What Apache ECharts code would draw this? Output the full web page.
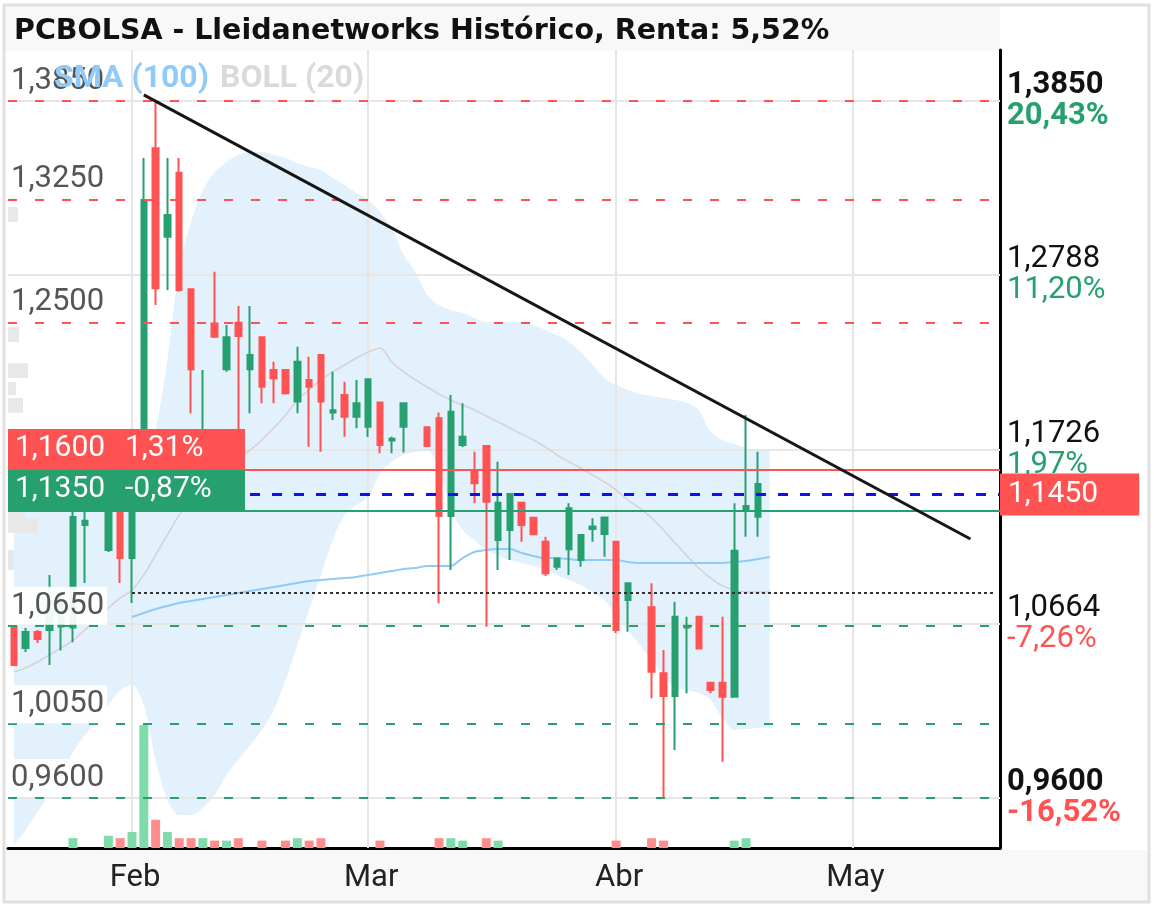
<!DOCTYPE html>
<html><head><meta charset="utf-8">
<style>html,body{margin:0;padding:0;background:#fff}#c{width:1154px;height:908px}</style>
<script src="https://cdn.jsdelivr.net/npm/echarts@6/dist/echarts.min.js"></script>
</head><body><div id="c"></div>
<script>
// ---------- data ----------
const titleText = 'PCBOLSA - Lleidanetworks Histórico, Renta: 5,52%';
const startDate = '2025-01-20';
const holidays = ['2025-04-18', '2025-04-21', '2025-05-01'];
const categoryCount = 84;
const monthNames = ['Ene','Feb','Mar','Abr','May','Jun','Jul','Ago','Sep','Oct','Nov','Dic'];

// [open, close, low, high]
const candles = [
 [1.0642,1.0411,1.0411,1.0642],[1.0514,1.0612,1.0490,1.0636],[1.0612,1.0569,1.0545,1.0625],
 [1.0624,1.0800,1.0411,1.0960],[1.0645,1.0780,1.0500,1.0850],[1.0640,1.1313,1.0550,1.1400],
 [1.1265,1.1290,1.0911,1.1450],[1.1380,1.1500,1.1360,1.1560],[1.1112,1.1420,1.1100,1.1500],
 [1.1420,1.1063,1.0911,1.1480],[1.1063,1.1500,1.0789,1.1550],[1.1500,1.3246,1.1450,1.3502],
 [1.3562,1.2708,1.2606,1.3856],[1.3023,1.3155,1.2698,1.3502],[1.3413,1.2698,1.2687,1.3502],
 [1.2702,1.2214,1.1946,1.2702],[1.1450,1.1550,1.1400,1.2210],[1.2494,1.2413,1.2405,1.2809],
 [1.2214,1.2409,1.2199,1.2484],[1.2498,1.2417,1.1500,1.2600],[1.2214,1.2301,1.1946,1.2600],
 [1.2409,1.2108,1.2007,1.2409],[1.2210,1.2159,1.2007,1.2260],[1.2210,1.2068,1.2060,1.2210],
 [1.2017,1.2260,1.1946,1.2352],[1.2149,1.2108,1.1742,1.2291],[1.2301,1.2017,1.1711,1.2301],
 [1.1950,1.1965,1.1905,1.2199],[1.2057,1.1925,1.1803,1.2138],[1.1925,1.2007,1.1854,1.2149],
 [1.1864,1.2153,1.1801,1.2153],[1.2011,1.1752,1.1702,1.2011],[1.1780,1.1790,1.1702,1.1803],
 [1.1864,1.2007,1.1706,1.2007],null,[1.1860,1.1746,1.1740,1.1865],
 [1.1915,1.1319,1.0787,1.1950],[1.1319,1.1955,1.0990,1.2057],[1.1752,1.1803,1.1740,1.2007],
 [1.1596,1.1519,1.1397,1.1711],[1.1746,1.1407,1.0644,1.1746],[1.1173,1.1401,1.0990,1.1650],
 [1.1234,1.1454,1.1051,1.1454],[1.1401,1.1264,1.1163,1.1401],[1.1309,1.1208,1.1208,1.1309],
 [1.1163,1.0970,1.0954,1.1193],[1.1010,1.1061,1.0990,1.1061],[1.1116,1.1366,1.0960,1.1397],
 [1.1051,1.1203,1.1010,1.1203],[1.1240,1.1255,1.1163,1.1305],[1.1210,1.1311,1.1071,1.1311],
 [1.1163,1.0624,1.0606,1.1163],[1.0807,1.0909,1.0614,1.0909],null,
 [1.0763,1.0370,1.0208,1.0909],[1.0360,1.0222,0.9600,1.0502],[1.0222,1.0705,0.9892,1.0797],
 [1.0640,1.0650,1.0238,1.0705],[1.0705,1.0512,1.0512,1.0705],[1.0303,1.0258,1.0238,1.0303],
 [1.0303,1.0217,0.9821,1.0705],[1.0217,1.1108,1.0217,1.1397],[1.1350,1.1380,1.1193,1.1935],
 [1.1315,1.1515,1.1193,1.1711]
];
const volumes = [0,0,0,0,0,8,0,0,10,8, 13,100,23,13,8,8,8,6,6,8, 0,6,0,6,8,6,8,0,0,0,
 0,6,0,0,0,0,8,8,6,0, 8,6,0,0,0,0,0,0,0,0, 0,6,0,0,8,6,0,0,0,0, 0,6,8,0];

const bollUpper = [1.1539,1.1551,1.1563,1.1576,1.1588,1.1600,1.1612,1.1624,1.1624,1.1612,
 1.1600,1.1630,1.1844,1.2271,1.2832,1.3112,1.3307,1.3417,1.3478,1.3521,
 1.3539,1.3539,1.3521,1.3502,1.3472,1.3448,1.3429,1.3380,1.3338,1.3289,
 1.3246,1.3173,1.3076,1.2911,1.2807,1.2667,1.2606,1.2576,1.2557,1.2527,
 1.2502,1.2502,1.2502,1.2502,1.2484,1.2454,1.2423,1.2380,1.2319,1.2240,
 1.2161,1.2118,1.2088,1.2063,1.2051,1.2039,1.2027,1.2009,1.1966,1.1832,
 1.1783,1.1759,1.1734,1.1722,1.1722];
const bollMid = [1.0368,1.0393,1.0429,1.0472,1.0515,1.0563,1.0624,1.0685,1.0759,1.0819,
 1.0868,1.0960,1.1082,1.1204,1.1326,1.1417,1.1478,1.1551,1.1612,1.1673,
 1.1722,1.1783,1.1856,1.1935,1.2027,1.2088,1.2149,1.2198,1.2240,1.2283,
 1.2319,1.2344,1.2259,1.2198,1.2149,1.2106,1.2063,1.2027,1.1996,1.1966,
 1.1929,1.1893,1.1856,1.1819,1.1783,1.1740,1.1691,1.1649,1.1612,1.1569,
 1.1527,1.1478,1.1417,1.1368,1.1307,1.1234,1.1155,1.1076,1.1002,1.0941,
 1.0893,1.0868,1.0856,1.0856,1.0856];
const bollLower = [0.9313,0.9405,0.9515,0.9618,0.9740,0.9880,0.9984,1.0063,1.0167,1.0259,
 1.0289,1.0167,0.9832,0.9588,0.9496,0.9496,0.9539,0.9618,0.9740,0.9832,
 0.9923,1.0015,1.0137,1.0319,1.0533,1.0746,1.0960,1.1173,1.1326,1.1387,
 1.1435,1.1582,1.1649,1.1691,1.1710,1.1722,1.1600,1.1356,1.1234,1.1173,
 1.1112,1.1076,1.1051,1.1033,1.1015,1.0990,1.0960,1.0929,1.0899,1.0856,
 1.0807,1.0716,1.0624,1.0533,1.0441,1.0350,1.0271,1.0259,1.0240,1.0198,
 1.0088,1.0015,1.0021,1.0027,1.0033];
const sma100 = [null,null,null,null,null,null,null,null,null,null,
 1.0704,1.0728,1.0752,1.0771,1.0789,1.0801,1.0813,1.0826,1.0838,1.0850,
 1.0862,1.0874,1.0887,1.0899,1.0911,1.0923,1.0929,1.0935,1.0941,1.0948,
 1.0960,1.0972,1.0984,1.0996,1.1002,1.1015,1.1015,1.1015,1.1063,1.1100,
 1.1112,1.1118,1.1118,1.1094,1.1076,1.1063,1.1063,1.1057,1.1051,1.1051,
 1.1051,1.1051,1.1039,1.1033,1.1033,1.1033,1.1033,1.1033,1.1033,1.1033,
 1.1033,1.1039,1.1045,1.1057,1.1070];

const resistances = [1.3850, 1.3250, 1.2500];
const supports = [1.0650, 1.0050, 0.9600];
const askLevel = 1.1600, askPct = '1,31%';
const bidLevel = 1.1350, bidPct = '-0,87%';
const lastPrice = 1.1450;
const pivotLevel = 1.0850, pivotStartIdx = 10;
const trendPoints = [[11, 1.3887], [81, 1.1179]];
const rightTicks = [1.3850, 1.2788, 1.1726, 1.0664, 0.9600];
const rightTickPct = ['20,43%', '11,20%', '1,97%', '-7,26%', '-16,52%'];
// volume-at-price profile: [priceTop, priceBottom, size]
const profile = [[1.3204,1.3112,10],[1.2472,1.2380,11],[1.2252,1.2161,20],[1.2137,1.2057,8],
 [1.2039,1.1948,15],[1.1344,1.1307,18],[1.1307,1.1216,30],[1.1112,1.0990,6]];

// ---------- build ----------
const categories = [];
{
  const d = new Date(startDate + 'T00:00:00Z');
  while (categories.length < categoryCount) {
    const s = d.toISOString().slice(0, 10);
    const wd = d.getUTCDay();
    if (wd !== 0 && wd !== 6 && holidays.indexOf(s) < 0) categories.push(s);
    d.setUTCDate(d.getUTCDate() + 1);
  }
}
const monthOf = s => +s.slice(5, 7);
const monthStarts = [];
categories.forEach((c, i) => { if (i > 0 && monthOf(c) !== monthOf(categories[i - 1])) monthStarts.push(i); });

const GREEN = '#26a06e', RED = '#ff5252';
const FS = 31;
const fmt = v => v.toFixed(4).replace('.', ',');
const candleData = candles.map(c => c ? c : '-');
const volData = volumes.map((v, i) => {
  const c = candles[i];
  const up = c ? c[1] >= c[0] : true;
  return { value: v, itemStyle: { color: up ? '#7fdcaa' : '#ff8d8d' } };
});
const bandDiff = bollUpper.map((u, i) => +(u - bollLower[i]).toFixed(4));

const levelLabel = {
  show: true, position: 'insideStartTop', distance: [0, 1],
  color: '#555', fontSize: FS, fontFamily: 'Roboto', lineHeight: 34,
  backgroundColor: 'rgba(255,255,255,0.92)', padding: [2, 3, 2, 3],
  formatter: p => fmt(p.value)
};
const levelLines = [];
resistances.forEach(v => levelLines.push({ yAxis: v, lineStyle: { color: RED, type: [9, 18], width: 2 }, label: levelLabel }));
supports.forEach(v => levelLines.push({ yAxis: v, lineStyle: { color: GREEN, type: [9, 18], width: 2 }, label: levelLabel }));
levelLines.push([
  { coord: [categories[pivotStartIdx], pivotLevel], lineStyle: { color: '#333', type: [3, 3], width: 2 }, label: { show: false } },
  { coord: [categories[categories.length - 1], pivotLevel] }
]);
levelLines.push({ yAxis: lastPrice, lineStyle: { color: '#1010ee', type: [10, 12], width: 3 },
  label: { show: true, position: 'end', distance: 0, formatter: fmt(lastPrice), color: '#fff', fontSize: 30,
    fontFamily: 'Roboto', lineHeight: 32, backgroundColor: RED, padding: [5, 41, 5, 8] } });
const boxLabel = (bg, v, pct) => ({
  show: true, position: 'insideStartTop', distance: [0, 1],
  formatter: '{a|' + fmt(v) + '}{b|' + pct + '}',
  backgroundColor: bg, padding: [5, 8, 5, 7], width: 222, color: '#fff',
  rich: { a: { color: '#fff', fontSize: 30, fontFamily: 'Roboto', width: 110, lineHeight: 30 },
          b: { color: '#fff', fontSize: 30, fontFamily: 'Roboto', lineHeight: 30 } }
});
levelLines.push({ yAxis: askLevel, lineStyle: { color: RED, type: 'solid', width: 2 }, label: boxLabel(RED, askLevel, askPct) });
levelLines.push({ yAxis: bidLevel, lineStyle: { color: GREEN, type: 'solid', width: 2 }, label: boxLabel(GREEN, bidLevel, bidPct) });

const gridLines = rightTicks.map(v => ({ yAxis: v })).concat(monthStarts.map(i => ({ xAxis: categories[i] })));

const rs = (color, bold) => ({ color: color, fontSize: FS, fontFamily: 'Roboto', fontWeight: bold ? 'bold' : 'normal', lineHeight: 31 });
const rich = { v: rs('#111'), vb: rs('#111', 1), pg: rs(GREEN), pgb: rs(GREEN, 1), pr: rs(RED), prb: rs(RED, 1) };

const chart = echarts.init(document.getElementById('c'));
chart.setOption({
  animation: false,
  backgroundColor: '#fff',
  title: { text: titleText, left: 9, top: 12,
    textStyle: { fontFamily: 'DejaVu Sans', fontWeight: 'bold', fontSize: 28.5, color: '#111' } },
  legend: { left: 44, top: 58, icon: 'none', itemWidth: 0, itemGap: 6, z: 10, selectedMode: false,
    textStyle: { fontSize: 32, fontWeight: 'bold', fontFamily: 'Roboto' },
    data: [ { name: 'SMA (100)', textStyle: { color: '#90caf9' } },
            { name: 'BOLL (20)', textStyle: { color: '#dadada' } } ] },
  graphic: { elements: [
    { type: 'rect', z: -10, silent: true, shape: { x: 6, y: 7, width: 994, height: 44 }, style: { fill: '#f8f8f8' } },
    { type: 'rect', z: -10, silent: true, shape: { x: 6, y: 850, width: 1142, height: 51 }, style: { fill: '#f8f8f8' } },
    { type: 'rect', z: -9, silent: true, shape: { x: 4, y: 5, width: 1145, height: 897 }, style: { fill: 'none', stroke: '#e0e0e0', lineWidth: 3 } }
  ] },
  grid: { left: 8, right: 154, top: 50, bottom: 60, containLabel: false },
  xAxis: {
    type: 'category', data: categories, boundaryGap: true,
    axisLine: { show: true, lineStyle: { color: '#000', width: 3 } },
    axisTick: { show: false }, splitLine: { show: false },
    axisLabel: { interval: (i) => monthStarts.indexOf(i) >= 0, formatter: v => monthNames[monthOf(v) - 1],
      fontSize: FS, fontFamily: 'Roboto', color: '#222', margin: 15, padding: [0, 0, 0, 6] }
  },
  yAxis: [
    { type: 'value', position: 'right', min: 0.9295, max: 1.4161, scale: true,
      axisLine: { show: true, lineStyle: { color: '#000', width: 3 } },
      axisTick: { show: false }, splitLine: { show: false },
      axisLabel: { show: true, margin: 7, customValues: rightTicks.slice(), rich: rich,
        formatter: (val) => {
          let k = -1;
          rightTicks.forEach((t, i) => { if (Math.abs(t - val) < 1e-6) k = i; });
          if (k < 0) return '';
          const bold = (k === 0 || k === rightTicks.length - 1) ? 'b' : '';
          const neg = rightTickPct[k].charAt(0) === '-';
          return '{v' + bold + '|' + fmt(rightTicks[k]) + '}\n{' + (neg ? 'pr' : 'pg') + bold + '|' + rightTickPct[k] + '}';
        } } },
    { type: 'value', min: 0, max: 649, show: false }
  ],
  series: [
    { name: 'bollLower', type: 'line', data: bollLower, stack: 'boll', symbol: 'none', smooth: 0.3,
      lineStyle: { opacity: 0 }, z: 1, silent: true,
      markLine: { z: 2, silent: true, precision: 4, symbol: ['none', 'none'], label: { show: false },
        lineStyle: { color: '#e6e6e6', width: 2, type: 'solid' }, data: gridLines } },
    { name: 'bollBand', type: 'line', data: bandDiff, stack: 'boll', symbol: 'none', smooth: 0.3,
      lineStyle: { opacity: 0 }, areaStyle: { color: '#e2f1fc', opacity: 1 }, z: 1, silent: true },
    { name: 'perfil', type: 'custom', z: 1, silent: true,
      data: profile.map(p => [0, p[0], p[1], p[2]]), encode: { x: 0, y: [1, 2] },
      renderItem: (params, api) => {
        const cs = params.coordSys;
        const y1 = api.coord([0, api.value(1)])[1];
        const y2 = api.coord([0, api.value(2)])[1];
        return { type: 'rect', shape: { x: cs.x, y: y1, width: api.value(3), height: y2 - y1 }, style: { fill: '#e8e8e8' } };
      } },
    { name: 'BOLL (20)', type: 'line', data: bollMid, symbol: 'none', smooth: 0.3,
      lineStyle: { color: '#d9d0d0', width: 1.5 }, itemStyle: { color: '#dadada' }, z: 2 },
    { name: 'SMA (100)', type: 'line', data: sma100, symbol: 'none', smooth: 0.3,
      lineStyle: { color: '#90caf9', width: 2 }, itemStyle: { color: '#90caf9' }, z: 2 },
    { name: 'Volumen', type: 'bar', xAxisIndex: 0, yAxisIndex: 1, data: volData, barWidth: 9, z: 3 },
    { name: 'PCBOLSA', type: 'candlestick', data: candleData, barWidth: 6, z: 3,
      itemStyle: { color: GREEN, color0: RED, borderColor: GREEN, borderColor0: RED, borderWidth: 2 } },
    { name: 'tendencia', type: 'line', data: trendPoints, symbol: 'none', z: 6,
      lineStyle: { color: '#161616', width: 3 },
      markLine: { z: 5, silent: true, precision: 4, symbol: ['none', 'none'], data: levelLines } }
  ]
});
</script></body></html>
